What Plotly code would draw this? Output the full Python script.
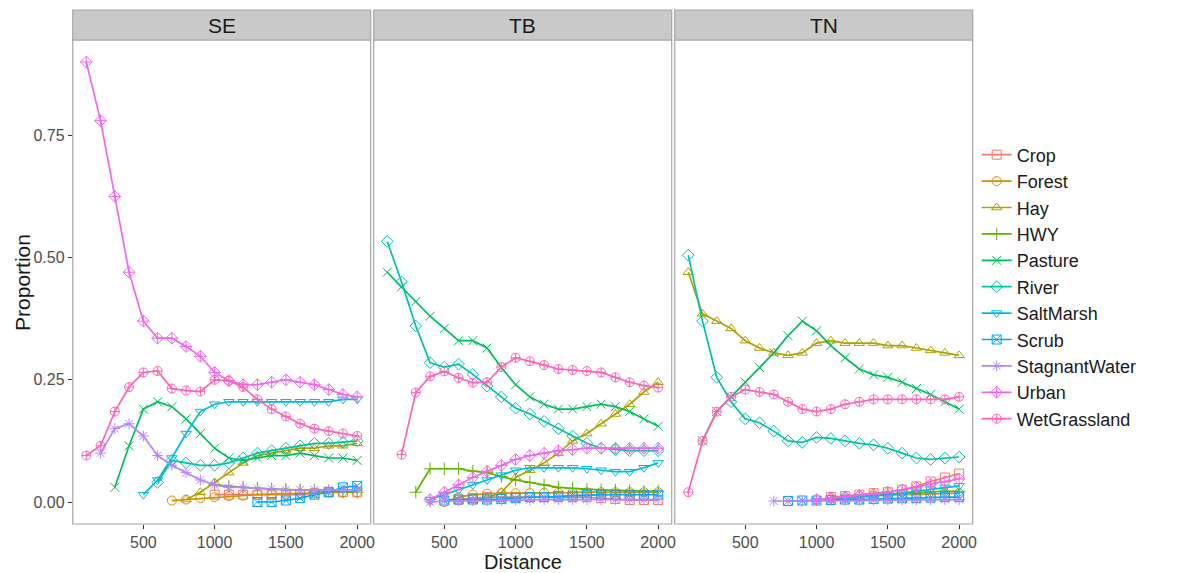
import plotly.graph_objects as go

# ---------------- data ----------------
distance = [100, 200, 300, 400, 500, 600, 700, 800, 900, 1000,
            1100, 1200, 1300, 1400, 1500, 1600, 1700, 1800, 1900, 2000]
regions = ["SE", "TB", "TN"]
categories = ["Crop", "Forest", "Hay", "HWY", "Pasture", "River", "SaltMarsh",
              "Scrub", "StagnantWater", "Urban", "WetGrassland"]
N = None
x_ticks = [500, 1000, 1500, 2000]
y_ticks = [0.0, 0.25, 0.5, 0.75]
y_tick_labels = ["0.00", "0.25", "0.50", "0.75"]

# SE
se_crop = [N, N, N, N, N, N, N, N, N, 0.015, 0.015, 0.015, 0.015, 0.015, 0.015, 0.015, 0.018, 0.02, 0.02, 0.02]
se_forest = [N, N, N, N, N, N, 0.003, 0.005, 0.008, 0.01, 0.012, 0.013, 0.015, 0.016, 0.017, 0.018, 0.019, 0.02, 0.02, 0.02]
se_hay = [N, N, N, N, N, N, N, 0.005, 0.02, 0.04, 0.06, 0.08, 0.095, 0.1, 0.105, 0.11, 0.11, 0.115, 0.115, 0.12]
se_hwy = [N, N, N, N, N, N, N, N, N, 0.035, 0.032, 0.03, 0.028, 0.027, 0.026, 0.025, 0.024, 0.022, 0.02, 0.02]
se_pasture = [N, N, 0.03, 0.115, 0.19, 0.205, 0.195, 0.17, 0.14, 0.11, 0.09, 0.085, 0.09, 0.095, 0.095, 0.1, 0.095, 0.09, 0.09, 0.085]
se_river = [N, N, N, N, N, 0.04, 0.085, 0.08, 0.075, 0.075, 0.08, 0.09, 0.1, 0.105, 0.11, 0.115, 0.12, 0.12, 0.122, 0.125]
se_saltmarsh = [N, N, N, N, 0.015, 0.045, 0.09, 0.14, 0.185, 0.2, 0.205, 0.205, 0.205, 0.205, 0.205, 0.205, 0.205, 0.205, 0.21, 0.21]
se_scrub = [N, N, N, N, N, N, N, N, N, N, N, N, 0.0, 0.0, 0.003, 0.008, 0.015, 0.02, 0.03, 0.033]
se_stagnant = [N, 0.1, 0.15, 0.16, 0.135, 0.095, 0.075, 0.06, 0.045, 0.035, 0.03, 0.03, 0.028, 0.027, 0.025, 0.025, 0.025, 0.025, 0.025, 0.025]
se_urban = [0.9, 0.78, 0.625, 0.47, 0.37, 0.335, 0.335, 0.318, 0.298, 0.265, 0.248, 0.24, 0.24, 0.245, 0.25, 0.245, 0.24, 0.23, 0.22, 0.215]
se_wetgrass = [0.095, 0.115, 0.185, 0.235, 0.265, 0.268, 0.232, 0.228, 0.226, 0.25, 0.248, 0.235, 0.21, 0.19, 0.175, 0.16, 0.15, 0.145, 0.14, 0.135]

# TB
tb_crop = [N, N, N, N, N, 0.005, 0.008, 0.01, 0.01, 0.01, 0.01, 0.01, 0.01, 0.01, 0.01, 0.008, 0.006, 0.004, 0.004, 0.004]
tb_forest = [N, N, N, N, 0.0, 0.01, 0.015, 0.017, 0.018, 0.018, 0.018, 0.019, 0.019, 0.019, 0.02, 0.02, 0.02, 0.02, 0.02, 0.02]
tb_hay = [N, N, N, N, N, N, 0.003, 0.008, 0.02, 0.05, 0.065, 0.08, 0.1, 0.125, 0.14, 0.16, 0.18, 0.2, 0.225, 0.245]
tb_hwy = [N, N, 0.02, 0.068, 0.068, 0.068, 0.063, 0.06, 0.052, 0.045, 0.04, 0.035, 0.03, 0.028, 0.026, 0.025, 0.024, 0.023, 0.022, 0.022]
tb_pasture = [0.47, 0.44, 0.41, 0.38, 0.355, 0.33, 0.33, 0.315, 0.275, 0.24, 0.215, 0.2, 0.19, 0.19, 0.195, 0.2, 0.195, 0.185, 0.17, 0.155]
tb_river = [0.533, 0.45, 0.36, 0.285, 0.276, 0.282, 0.261, 0.237, 0.215, 0.192, 0.18, 0.165, 0.15, 0.135, 0.12, 0.11, 0.107, 0.105, 0.105, 0.105]
tb_saltmarsh = [N, N, N, 0.005, 0.015, 0.025, 0.035, 0.045, 0.055, 0.065, 0.07, 0.07, 0.07, 0.07, 0.068, 0.065, 0.062, 0.062, 0.07, 0.08]
tb_scrub = [N, N, N, N, 0.003, 0.005, 0.005, 0.005, 0.006, 0.008, 0.01, 0.01, 0.012, 0.013, 0.014, 0.015, 0.015, 0.015, 0.015, 0.015]
tb_stagnant = [N, N, N, 0.0, 0.002, 0.002, 0.003, 0.003, 0.003, 0.004, 0.004, 0.005, 0.005, 0.005, 0.005, 0.005, 0.005, 0.005, 0.005, 0.005]
tb_urban = [N, N, N, 0.005, 0.02, 0.035, 0.05, 0.063, 0.075, 0.087, 0.095, 0.1, 0.105, 0.107, 0.11, 0.11, 0.11, 0.11, 0.11, 0.11]
tb_wetgrass = [N, 0.097, 0.224, 0.257, 0.267, 0.254, 0.244, 0.245, 0.276, 0.295, 0.288, 0.28, 0.272, 0.27, 0.268, 0.265, 0.255, 0.245, 0.238, 0.234]

# TN
tn_crop = [N, N, N, N, N, N, N, N, N, N, 0.01, 0.012, 0.015, 0.018, 0.02, 0.025, 0.032, 0.042, 0.05, 0.058]
tn_forest = [N, N, N, N, N, N, N, N, N, N, 0.008, 0.01, 0.012, 0.013, 0.014, 0.015, 0.016, 0.017, 0.018, 0.018]
tn_hay = [0.47, 0.385, 0.37, 0.355, 0.33, 0.315, 0.305, 0.3, 0.305, 0.325, 0.33, 0.325, 0.325, 0.325, 0.32, 0.32, 0.315, 0.31, 0.305, 0.3]
tn_hwy = [N, N, N, N, N, N, N, N, N, N, N, N, 0.012, 0.014, 0.016, 0.018, 0.02, 0.021, 0.022, 0.022]
tn_pasture = [N, 0.125, 0.185, 0.215, 0.245, 0.275, 0.305, 0.34, 0.37, 0.35, 0.32, 0.295, 0.272, 0.26, 0.255, 0.245, 0.232, 0.22, 0.205, 0.19]
tn_river = [0.505, 0.37, 0.255, 0.205, 0.17, 0.162, 0.145, 0.125, 0.122, 0.132, 0.13, 0.125, 0.12, 0.117, 0.11, 0.1, 0.09, 0.087, 0.09, 0.092]
tn_saltmarsh = [N, N, N, N, N, N, N, N, N, 0.003, 0.005, 0.007, 0.01, 0.012, 0.015, 0.018, 0.022, 0.026, 0.03, 0.033]
tn_scrub = [N, N, N, N, N, N, N, 0.002, 0.003, 0.003, 0.004, 0.005, 0.005, 0.006, 0.007, 0.008, 0.008, 0.009, 0.01, 0.01]
tn_stagnant = [N, N, N, N, N, N, 0.002, 0.002, 0.002, 0.003, 0.003, 0.003, 0.003, 0.004, 0.004, 0.004, 0.004, 0.005, 0.005, 0.005]
tn_urban = [N, N, N, N, N, N, N, N, N, 0.005, 0.008, 0.01, 0.013, 0.016, 0.02, 0.025, 0.03, 0.037, 0.042, 0.047]
tn_wetgrass = [0.02, 0.125, 0.185, 0.215, 0.23, 0.225, 0.22, 0.205, 0.19, 0.185, 0.19, 0.2, 0.205, 0.21, 0.21, 0.21, 0.21, 0.21, 0.21, 0.215]

data = {
    "SE": [se_crop, se_forest, se_hay, se_hwy, se_pasture, se_river, se_saltmarsh,
           se_scrub, se_stagnant, se_urban, se_wetgrass],
    "TB": [tb_crop, tb_forest, tb_hay, tb_hwy, tb_pasture, tb_river, tb_saltmarsh,
           tb_scrub, tb_stagnant, tb_urban, tb_wetgrass],
    "TN": [tn_crop, tn_forest, tn_hay, tn_hwy, tn_pasture, tn_river, tn_saltmarsh,
           tn_scrub, tn_stagnant, tn_urban, tn_wetgrass],
}

# ---------------- styling ----------------
colors = ["#F8766D", "#DB8E00", "#AEA200", "#64B200", "#00BD5C", "#00C1A7",
          "#00BADE", "#00A6FF", "#B385FF", "#EF67EB", "#FF63B6"]
symbols = ["square-open", "circle-open", "triangle-up-open", "cross-thin-open",
           "x-thin-open", "diamond-open", "triangle-down-open", "square-x-open",
           "asterisk-open", "diamond-cross-open", "circle-cross-open"]

W, H = 1178, 573
panels = [(73, 372), (375, 674), (677, 976)]
p_top, p_bot, s_top = 40, 524, 10
FONT = "Liberation Sans, Arial, sans-serif"

fig = go.Figure()
layout = dict(
    width=W, height=H, margin=dict(l=0, r=0, t=0, b=0),
    paper_bgcolor="white", plot_bgcolor="white",
    font=dict(family=FONT, color="#1A1A1A"),
    showlegend=True,
    legend=dict(x=980 / W, y=1 - 287 / H, xanchor="left", yanchor="middle",
                font=dict(size=18, family=FONT, color="#1A1A1A"),
                bgcolor="rgba(0,0,0,0)", tracegroupgap=0, itemwidth=30),
)
shapes, annotations = [], []

for i, (reg, (x0, x1)) in enumerate(zip(regions, panels)):
    sfx = "" if i == 0 else str(i + 1)
    layout["xaxis" + sfx] = dict(
        domain=[x0 / W, x1 / W], range=[5, 2095], anchor="y" + sfx,
        tickvals=x_ticks, ticks="outside", ticklen=4, tickcolor="#333333",
        tickfont=dict(size=16, color="#4D4D4D", family=FONT),
        showgrid=False, zeroline=False, showline=False)
    layout["yaxis" + sfx] = dict(
        domain=[1 - p_bot / H, 1 - p_top / H], range=[-0.045, 0.945], anchor="x" + sfx,
        tickvals=y_ticks, ticktext=y_tick_labels,
        ticks="outside" if i == 0 else "", ticklen=4, tickcolor="#333333",
        showticklabels=(i == 0),
        tickfont=dict(size=16, color="#4D4D4D", family=FONT),
        showgrid=False, zeroline=False, showline=False)
    # panel border
    shapes.append(dict(type="rect", xref="paper", yref="paper",
                       x0=x0 / W, x1=x1 / W, y0=1 - p_bot / H, y1=1 - p_top / H,
                       line=dict(color="#A6A6A6", width=1.2), fillcolor="rgba(0,0,0,0)"))
    # strip
    shapes.append(dict(type="rect", xref="paper", yref="paper",
                       x0=x0 / W, x1=x1 / W, y0=1 - p_top / H, y1=1 - s_top / H,
                       line=dict(color="#A6A6A6", width=1.2), fillcolor="#C9C9C9"))
    annotations.append(dict(text=reg, xref="paper", yref="paper",
                            x=(x0 + x1) / 2 / W, y=1 - (p_top + s_top) / 2 / H,
                            showarrow=False, font=dict(size=21, color="#1A1A1A", family=FONT),
                            xanchor="center", yanchor="middle"))
    for j, cat in enumerate(categories):
        fig.add_trace(go.Scatter(
            x=distance, y=data[reg][j], mode="lines+markers", name=cat,
            legendgroup=cat, showlegend=(i == 0),
            xaxis="x" + sfx, yaxis="y" + sfx,
            line=dict(color=colors[j], width=1.7),
            marker=dict(symbol=symbols[j], size=9, color=colors[j],
                        line=dict(width=1, color=colors[j])),
        ))

annotations.append(dict(text="Distance", xref="paper", yref="paper",
                        x=(73 + 976) / 2 / W, y=1 - 562 / H, showarrow=False,
                        font=dict(size=20, color="#1A1A1A", family=FONT),
                        xanchor="center", yanchor="middle"))
annotations.append(dict(text="Proportion", xref="paper", yref="paper",
                        x=22 / W, y=1 - 282 / H, showarrow=False, textangle=-90,
                        font=dict(size=21, color="#1A1A1A", family=FONT),
                        xanchor="center", yanchor="middle"))
layout["shapes"] = shapes
layout["annotations"] = annotations
fig.update_layout(**layout)
fig.write_html("out.html")
